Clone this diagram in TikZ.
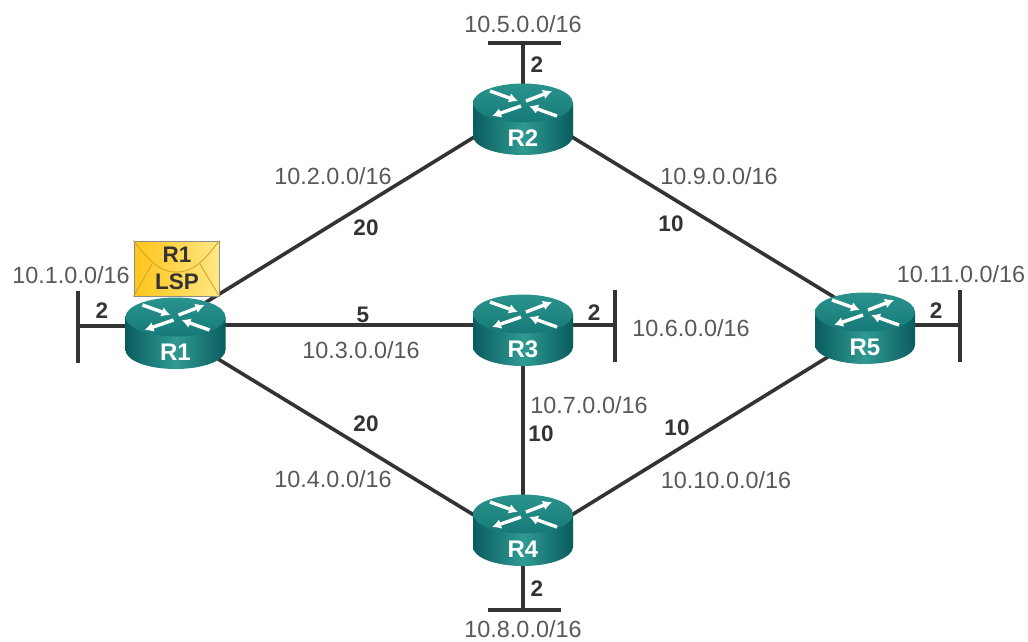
\documentclass[tikz,border=0pt]{standalone}
\usepackage{fontspec}
\setmainfont{Liberation Sans}
\usetikzlibrary{arrows.meta,backgrounds,calc,shapes.geometric}
\definecolor{linecol}{HTML}{333333}
\definecolor{addrcol}{HTML}{595959}
\definecolor{numcol}{HTML}{333333}
\definecolor{teal1}{HTML}{0A5C5E}
\definecolor{teal2}{HTML}{2F9A92}
\definecolor{teal3}{HTML}{167A78}
\definecolor{teal4}{HTML}{2A938C}
\definecolor{gold1}{HTML}{FFC51A}
\definecolor{gold2}{HTML}{FFE784}
\definecolor{goldline}{HTML}{D2A52A}
\tikzset{
  x=1pt,y=-1pt,
  wire/.style={draw=linecol,line width=3.6pt},
  addr/.style={text=addrcol,font=\fontsize{23.4}{25}\selectfont,inner sep=0pt},
  metric/.style={text=numcol,font=\fontsize{22.5}{24}\selectfont\bfseries,inner sep=0pt},
  envtext/.style={text=numcol,font=\fontsize{22.5}{24}\selectfont\bfseries,inner sep=0pt},
  rname/.style={text=white,font=\fontsize{24}{26}\selectfont\bfseries,inner sep=0pt},
  rarrow/.style={white,line width=3.4pt,-{Latex[length=9pt,width=10pt]}},
}
\newcommand{\routerbody}[4]{%
  \begin{scope}[shift={(#1,#2)}]
    \path[left color=teal1,right color=teal1,middle color=teal2]
      (-50,-16) -- (-50,17) arc[start angle=180,end angle=0,x radius=50,y radius=19]
      -- (50,-16) -- cycle;
    \path[top color=teal4,bottom color=teal3] (0,-16) ellipse[x radius=50,y radius=19.5];
    \draw[rarrow] (-33,-28) -- (-5,-18);
    \draw[rarrow] (3,-18) -- (29,-28);
    \draw[rarrow] (-2,-13) -- (-31,-3);
    \draw[rarrow] (34,-3) -- (6,-13);
  \end{scope}
  \node[rname] (#3) at (#1,#2) [yshift=-19pt] {#4};
  \coordinate (#3c) at (#1,#2);
  \coordinate (#3u) at (#1,#2-12);
  \coordinate (#3m) at (#1,#2+6);
  \coordinate (#3d) at (#1,#2+15);
}
\begin{document}
\begin{tikzpicture}
\useasboundingbox (0,0) rectangle (1028,641);

% envelope
\node[draw=black!45,line width=1pt,left color=gold1,right color=gold2,
      minimum width=85pt,minimum height=55pt,inner sep=0pt] (env) at (176.5,268.5) {};
\draw[goldline,line width=.9pt] (env.north west) .. controls (150,262) and (160,272) .. (176.5,272)
   .. controls (193,272) and (203,262) .. (env.north east);
\draw[goldline,line width=.9pt] (env.south west) -- (152,264);
\draw[goldline,line width=.9pt] (env.south east) -- (200,264);

\routerbody{175.5}{333}{R1}{R1}
\routerbody{523}{119}{R2}{R2}
\routerbody{523}{330}{R3}{R3}
\routerbody{865}{328}{R5}{R5}
\routerbody{523}{530}{R4}{R4}

\node[envtext] (envA) at (177,255) {R1};
\node[envtext] (envB) at (177,282) {LSP};

% stub network bars
\coordinate (n1a) at (78,291); \coordinate (n1b) at (78,363); \coordinate (n1c) at (78,326);
\coordinate (n5a) at (488,43); \coordinate (n5b) at (561,43); \coordinate (n5c) at (523,43);
\coordinate (n6a) at (615,290); \coordinate (n6b) at (615,362); \coordinate (n6c) at (615,325);
\coordinate (n11a) at (960,290); \coordinate (n11b) at (960,362); \coordinate (n11c) at (960,325);
\coordinate (n8a) at (488,610); \coordinate (n8b) at (561,610); \coordinate (n8c) at (523,610);

\begin{scope}[on background layer]
  \fill[white] (0,0) rectangle (1028,641);
  \draw[wire] (R1u) -- (R2u);
  \draw[wire] (R2u) -- (R5u);
  \draw[wire] (R1c) -- (R4d);
  \draw[wire] (R4d) -- (R5m);
  \draw[wire] (R3c) -- (R4c);
  \draw[wire] (R1c |- n6c) -- (R3c |- n6c);
  \draw[wire] (n1a) -- (n1b);
  \draw[wire] (n1c) -- (R1c |- n1c);
  \draw[wire] (n5a) -- (n5b);
  \draw[wire] (n5c) -- (R2c);
  \draw[wire] (n6a) -- (n6b);
  \draw[wire] (n6c) -- (R3c |- n6c);
  \draw[wire] (n11a) -- (n11b);
  \draw[wire] (n11c) -- (R5c |- n11c);
  \draw[wire] (n8a) -- (n8b);
  \draw[wire] (n8c) -- (R4c);
\end{scope}

\node[addr] (a5) at (523,24) {10.5.0.0/16};
\node[addr] (a2) at (333,176) {10.2.0.0/16};
\node[addr] (a9) at (719,176) {10.9.0.0/16};
\node[addr] (a1) at (71,275) {10.1.0.0/16};
\node[addr] (a3) at (361,350) {10.3.0.0/16};
\node[addr] (a6) at (691,328) {10.6.0.0/16};
\node[addr] (a11) at (961,274) {10.11.0.0/16};
\node[addr] (a7) at (589,405) {10.7.0.0/16};
\node[addr] (a4) at (333,479) {10.4.0.0/16};
\node[addr] (a10) at (726,480) {10.10.0.0/16};
\node[addr] (a8) at (523,629) {10.8.0.0/16};

\node[metric] (m1) at (537,65) {2};
\node[metric] (m2) at (366,228) {20};
\node[metric] (m3) at (671,224) {10};
\node[metric] (m4) at (102,311) {2};
\node[metric] (m5) at (363,315) {5};
\node[metric] (m6) at (594,313) {2};
\node[metric] (m7) at (936,311) {2};
\node[metric] (m8) at (541,434) {10};
\node[metric] (m9) at (677,428) {10};
\node[metric] (m10) at (366,424) {20};
\node[metric] (m11) at (537,589) {2};
\end{tikzpicture}
\end{document}
